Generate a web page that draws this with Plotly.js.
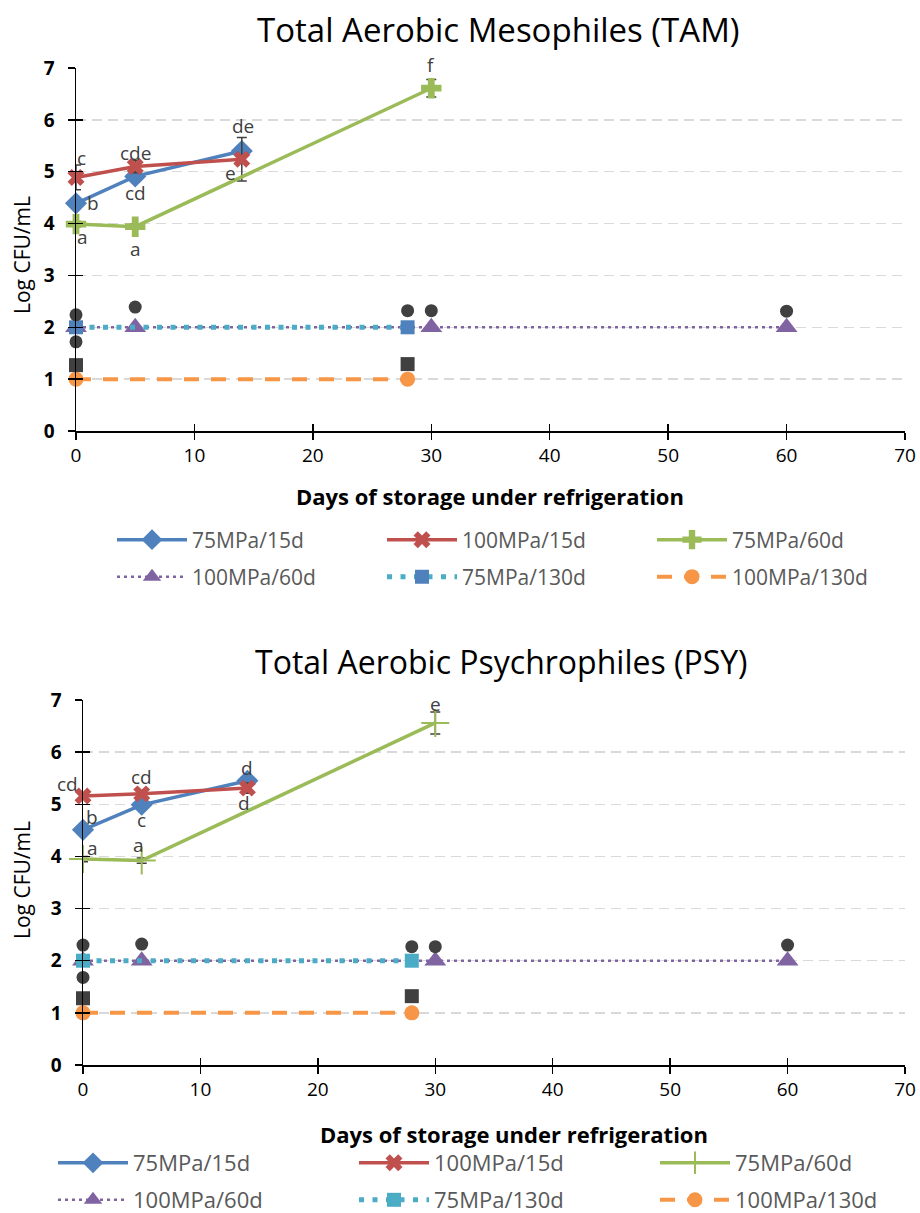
<!DOCTYPE html>
<html>
<head>
<meta charset="utf-8">
<script src="https://cdn.plot.ly/plotly-3.0.1.min.js"></script>
<style>
html,body{margin:0;padding:0;background:#fff;}
#chart{width:920px;height:1213px;}
</style>
</head>
<body>
<div id="chart"></div>
<script>
// ---------------- DATA ----------------
const seriesNames = ['75MPa/15d','100MPa/15d','75MPa/60d','100MPa/60d','75MPa/130d','100MPa/130d'];
const chartTitles = ['Total Aerobic Mesophiles (TAM)','Total Aerobic Psychrophiles (PSY)'];
const xTitle = 'Days of storage under refrigeration';
const yTitle = 'Log CFU/mL';
const xTicks = [0,10,20,30,40,50,60,70];
const yTicks = [0,1,2,3,4,5,6,7];

// TAM
const tam_75_15_x = [0,5,14];       const tam_75_15_y = [4.39,4.91,5.40];  const tam_75_15_err = [0.06,0.08,0.10];
const tam_100_15_x = [0,5,14];      const tam_100_15_y = [4.89,5.10,5.24]; const tam_100_15_err = [0.24,0.12,0.42];
const tam_75_60_x = [0,5,30];       const tam_75_60_y = [3.99,3.94,6.61];  const tam_75_60_err = [0.05,0.05,0.17];
const tam_100_60_x = [0,5,30,60];   const tam_100_60_y = [2,2,2,2];
const tam_75_130_x = [0,28];        const tam_75_130_y = [2,2];
const tam_100_130_x = [0,28];       const tam_100_130_y = [1,1];
const tam_dot_x = [0,0,5,28,30,60]; const tam_dot_y = [2.24,1.72,2.39,2.32,2.32,2.31];
const tam_sq_x = [0,28];            const tam_sq_y = [1.27,1.29];
const tam_75_15_sig = ['b','cd','de'];
const tam_100_15_sig = ['c','cde','e'];
const tam_75_60_sig = ['a','a','f'];

// PSY
const psy_75_15_x = [0,5,14];       const psy_75_15_y = [4.51,4.99,5.45];  const psy_75_15_err = [0.05,0.05,0.08];
const psy_100_15_x = [0,5,14];      const psy_100_15_y = [5.16,5.20,5.31]; const psy_100_15_err = [0.05,0.05,0.10];
const psy_75_60_x = [0,5,30];       const psy_75_60_y = [3.95,3.92,6.56];  const psy_75_60_err = [0.05,0.05,0.21];
const psy_100_60_x = [0,5,30,60];   const psy_100_60_y = [2,2,2,2];
const psy_75_130_x = [0,28];        const psy_75_130_y = [2,2];
const psy_100_130_x = [0,28];       const psy_100_130_y = [1,1];
const psy_dot_x = [0,0,5,28,30,60]; const psy_dot_y = [2.30,1.68,2.32,2.27,2.27,2.30];
const psy_sq_x = [0,28];            const psy_sq_y = [1.28,1.32];
const psy_75_15_sig = ['b','c','d'];
const psy_100_15_sig = ['cd','cd','d'];
const psy_75_60_sig = ['a','a','e'];

// ---------------- STYLE ----------------
const W = 920, H = 1213;
const PX = x => x / W, PY = y => 1 - y / H;
const FONT = '"Open Sans", Lato, sans-serif';
const C = {blue:'#4F81BD', red:'#C0504D', green:'#9BBB59', purple:'#8064A2', teal:'#4BACC6', orange:'#F79646', dark:'#404040'};

function errBar(arr){
  return {type:'data', array:arr, visible:true, color:C.dark, thickness:1.5, width:5};
}

function buildTraces(d, xa, ya, legA, legB, top){
  const t = [];
  const base = {type:'scatter', mode:'lines+markers', xaxis:xa, yaxis:ya, cliponaxis:false, hoverinfo:'x+y'};
  t.push(Object.assign({}, base, {name:seriesNames[3], x:d.p_x, y:d.p_y, legend:legB,
    line:{color:C.purple, width:2.5, dash:'3px,4px'}, marker:{symbol:'triangle-up', size:19, color:C.purple}}));
  t.push(Object.assign({}, base, {name:seriesNames[4], x:d.t_x, y:d.t_y, legend:legB,
    line:{color:C.teal, width:5, dash:'5px,8.5px'}, marker:{symbol:'square', size:14, color: top ? C.blue : C.teal}}));
  t.push(Object.assign({}, base, {name:seriesNames[5], x:d.o_x, y:d.o_y, legend:legB,
    line:{color:C.orange, width:4, dash:'15px,12px'}, marker:{symbol:'circle', size:15, color:C.orange}}));
  t.push(Object.assign({}, base, {name:seriesNames[0], x:d.b_x, y:d.b_y, legend:legA, error_y:errBar(d.b_e),
    line:{color:C.blue, width:3.5}, marker:{symbol:'diamond', size:17, color:C.blue}}));
  t.push(Object.assign({}, base, {name:seriesNames[1], x:d.r_x, y:d.r_y, legend:legA, error_y:errBar(d.r_e),
    line:{color:C.red, width:3.5}, marker:{symbol:'x', size:15, color:C.red}}));
  t.push(Object.assign({}, base, {name:seriesNames[2], x:d.g_x, y:d.g_y, legend:legA, error_y:errBar(d.g_e),
    line:{color:C.green, width:3.5},
    marker: top ? {symbol:'cross', size:17, color:C.green} : {symbol:'cross-thin', size:20, color:C.green, line:{color:C.green, width:2}}}));
  t.push(Object.assign({}, base, {name:'', mode:'markers', x:d.c_x, y:d.c_y, showlegend:false,
    marker:{symbol:'circle', size:13, color:C.dark}}));
  t.push(Object.assign({}, base, {name:'', mode:'markers', x:d.s_x, y:d.s_y, showlegend:false,
    marker:{symbol:'square', size:14, color:C.dark}}));
  return t;
}

const tamTraces = buildTraces({
  b_x:tam_75_15_x, b_y:tam_75_15_y, b_e:tam_75_15_err,
  r_x:tam_100_15_x, r_y:tam_100_15_y, r_e:tam_100_15_err,
  g_x:tam_75_60_x, g_y:tam_75_60_y, g_e:tam_75_60_err,
  p_x:tam_100_60_x, p_y:tam_100_60_y, t_x:tam_75_130_x, t_y:tam_75_130_y,
  o_x:tam_100_130_x, o_y:tam_100_130_y, c_x:tam_dot_x, c_y:tam_dot_y, s_x:tam_sq_x, s_y:tam_sq_y
}, 'x', 'y', 'legend', 'legend2', true);
const psyTraces = buildTraces({
  b_x:psy_75_15_x, b_y:psy_75_15_y, b_e:psy_75_15_err,
  r_x:psy_100_15_x, r_y:psy_100_15_y, r_e:psy_100_15_err,
  g_x:psy_75_60_x, g_y:psy_75_60_y, g_e:psy_75_60_err,
  p_x:psy_100_60_x, p_y:psy_100_60_y, t_x:psy_75_130_x, t_y:psy_75_130_y,
  o_x:psy_100_130_x, o_y:psy_100_130_y, c_x:psy_dot_x, c_y:psy_dot_y, s_x:psy_sq_x, s_y:psy_sq_y
}, 'x2', 'y2', 'legend3', 'legend4', false);

// empty traces that only carry the inner half of the crossing tick marks
const tickHelpers = [
  {type:'scatter', x:[], y:[], xaxis:'x3', yaxis:'y3', showlegend:false, hoverinfo:'skip'},
  {type:'scatter', x:[], y:[], xaxis:'x4', yaxis:'y4', showlegend:false, hoverinfo:'skip'}
];

const data = tickHelpers.concat(tamTraces, psyTraces);

// significance letters, offset in pixels from their point
const letterFont = {family:FONT, size:19, color:C.dark};
const annotations = [];
function addLetters(xs, ys, labels, shifts, xa, ya){
  labels.forEach((lab,i)=>{
    annotations.push({x:xs[i], y:ys[i], xref:xa, yref:ya, text:lab, showarrow:false,
      xshift:shifts[i][0], yshift:shifts[i][1], font:letterFont});
  });
}
addLetters(tam_75_15_x, tam_75_15_y, tam_75_15_sig, [[17,0],[0,-17],[1,25]], 'x','y');
addLetters(tam_100_15_x, tam_100_15_y, tam_100_15_sig, [[5,19],[0,14],[-11,-14]], 'x','y');
addLetters(tam_75_60_x, tam_75_60_y, tam_75_60_sig, [[6,-13],[0,-22],[0,23]], 'x','y');
addLetters(psy_75_15_x, psy_75_15_y, psy_75_15_sig, [[9,13],[0,-15],[0,13]], 'x2','y2');
addLetters(psy_100_15_x, psy_100_15_y, psy_100_15_sig, [[-16,12],[0,17],[-3,-15]], 'x2','y2');
addLetters(psy_75_60_x, psy_75_60_y, psy_75_60_sig, [[9,11],[-3,16],[0,19]], 'x2','y2');

// titles
annotations.push({text:chartTitles[0], xref:'paper', yref:'paper', x:PX(498), y:PY(30), showarrow:false,
  xanchor:'center', yanchor:'middle', font:{family:FONT, size:33, color:'#000'}});
annotations.push({text:chartTitles[1], xref:'paper', yref:'paper', x:PX(501), y:PY(662), showarrow:false,
  xanchor:'center', yanchor:'middle', font:{family:FONT, size:32, color:'#000'}});
annotations.push({text:xTitle, xref:'paper', yref:'paper', x:PX(490), y:PY(496), showarrow:false,
  xanchor:'center', yanchor:'middle', font:{family:FONT, size:22, color:'#000', weight:'bold'}});
annotations.push({text:xTitle, xref:'paper', yref:'paper', x:PX(514), y:PY(1134), showarrow:false,
  xanchor:'center', yanchor:'middle', font:{family:FONT, size:22, color:'#000', weight:'bold'}});
annotations.push({text:yTitle, xref:'paper', yref:'paper', x:PX(22), y:PY(255), showarrow:false, textangle:-90,
  xanchor:'center', yanchor:'middle', font:{family:FONT, size:21, color:'#000'}});
annotations.push({text:yTitle, xref:'paper', yref:'paper', x:PX(22), y:PY(880), showarrow:false, textangle:-90,
  xanchor:'center', yanchor:'middle', font:{family:FONT, size:21, color:'#000'}});

function xAxis(domain, anchor){
  return {domain:domain, anchor:anchor, range:[0,70], tickvals:xTicks, ticktext:xTicks.map(String),
    showgrid:false, zeroline:false, showline:true, linecolor:'#000', linewidth:1.5,
    ticks:'outside', ticklen:7, tickwidth:1.5, tickcolor:'#000', automargin:false,
    tickfont:{family:FONT, size:19, color:'#000'}, fixedrange:true};
}
function yAxis(domain, anchor){
  return {domain:domain, anchor:anchor, range:[0,7], tickvals:yTicks, ticktext:yTicks.map(String),
    showgrid:true, gridcolor:'#D9D9D9', gridwidth:1.5, griddash:'10px,6px',
    zeroline:false, showline:true, linecolor:'#000', linewidth:1.5, automargin:false,
    ticks:'outside', ticklen:7, tickwidth:1.5, tickcolor:'#000', ticklabelstandoff:9,
    tickfont:{family:FONT, size:19, color:'#000', weight:'bold'}, fixedrange:true};
}
// overlay axes: inner half of the tick marks (ticks cross the axis line)
function innerX(over, anchor, domain){
  return {overlaying:over, anchor:anchor, domain:domain, range:[0,70], tickvals:xTicks, showticklabels:false,
    showgrid:false, zeroline:false, showline:false, ticks:'inside', ticklen:7, tickwidth:1.5, tickcolor:'#000',
    automargin:false, fixedrange:true};
}
function innerY(over, anchor, domain){
  return {overlaying:over, anchor:anchor, domain:domain, range:[0,7], tickvals:yTicks, showticklabels:false,
    showgrid:false, zeroline:false, showline:false, ticks:'inside', ticklen:7, tickwidth:1.5, tickcolor:'#000',
    automargin:false, fixedrange:true};
}
function legend(x, y, ew, fs){
  return {orientation:'h', x:x, y:y, xanchor:'left', yanchor:'middle', bgcolor:'rgba(0,0,0,0)',
    entrywidth:ew, entrywidthmode:'pixels', itemwidth:70, traceorder:'normal',
    font:{family:FONT, size:fs, color:'#595959'}, itemclick:false, itemdoubleclick:false};
}

const topX = [PX(76),PX(905)], topY = [PY(431),PY(68)];
const botX = [PX(83),PX(905)], botY = [PY(1065),PY(700)];
const layout = {
  width:W, height:H, margin:{l:0,r:0,t:0,b:0,autoexpand:false}, paper_bgcolor:'#fff', plot_bgcolor:'#fff',
  font:{family:FONT},
  xaxis: xAxis(topX, 'y'),
  yaxis: yAxis(topY, 'x'),
  xaxis2: xAxis(botX, 'y2'),
  yaxis2: yAxis(botY, 'x2'),
  xaxis3: innerX('x', 'y3', topX),
  yaxis3: innerY('y', 'x3', topY),
  xaxis4: innerX('x2', 'y4', botX),
  yaxis4: innerY('y2', 'x4', botY),
  legend: legend(PX(112), PY(540), 185, 21),
  legend2: legend(PX(112), PY(577), 185, 21),
  legend3: legend(PX(53), PY(1163), 216, 22),
  legend4: legend(PX(53), PY(1200), 216, 22),
  annotations: annotations,
  showlegend:true, hovermode:'closest'
};

data.forEach(tr=>{ const k = seriesNames.indexOf(tr.name); if(k>=0) tr.legendrank = k+1; });

Plotly.newPlot('chart', data, layout, {displayModeBar:false, staticPlot:true});
</script>
</body>
</html>
